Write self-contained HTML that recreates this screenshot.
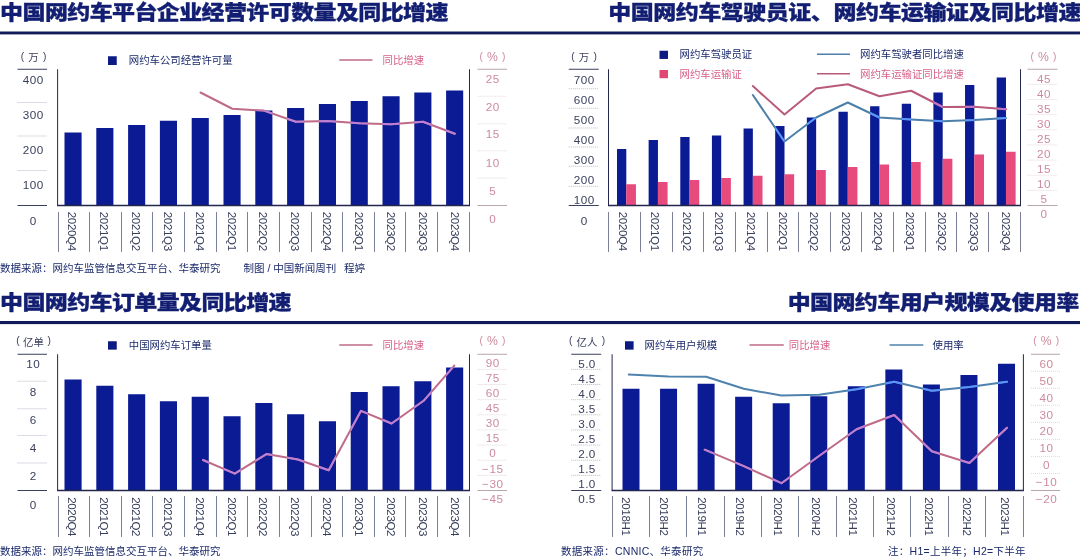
<!DOCTYPE html>
<html lang="zh-CN">
<head>
<meta charset="utf-8">
<title>中国网约车数据图表</title>
<style>
html,body{margin:0;padding:0;background:#fff;}
body{width:1080px;height:560px;overflow:hidden;}
svg{display:block;}
text{font-family:"Liberation Sans","Noto Sans CJK SC",sans-serif;}
.t{font-family:"Liberation Sans","Noto Sans CJK SC",sans-serif;font-weight:900;}
.n{font-weight:400;letter-spacing:0.5px;}
.c{font-weight:400;}
.u{font-weight:400;}
.x{letter-spacing:-0.38px;}
</style>
</head>
<body>
<svg width="1080" height="560" viewBox="0 0 1080 560">
<rect x="0" y="0" width="1080" height="560" fill="#ffffff"/>
<rect x="0.00" y="31.50" width="1080.00" height="2.90" fill="#111b5a"/>
<rect x="0.00" y="321.00" width="1080.00" height="3.10" fill="#111b5a"/>
<text transform="translate(0.10,20.15) scale(1,0.873)" font-size="23" fill="#121e72" stroke="#121e72" stroke-width="0.35" letter-spacing="-0.6" class="t">中国网约车平台企业经营许可数量及同比增速</text>
<text transform="translate(608.20,20.15) scale(1,0.873)" font-size="23" fill="#121e72" stroke="#121e72" stroke-width="0.35" letter-spacing="-0.47" class="t">中国网约车驾驶员证、网约车运输证及同比增速</text>
<text transform="translate(0.10,309.85) scale(1,0.873)" font-size="23" fill="#121e72" stroke="#121e72" stroke-width="0.35" letter-spacing="-0.62" class="t">中国网约车订单量及同比增速</text>
<text transform="translate(787.70,309.85) scale(1,0.873)" font-size="23" fill="#121e72" stroke="#121e72" stroke-width="0.35" letter-spacing="-0.6" class="t">中国网约车用户规模及使用率</text>
<line x1="17.50" y1="69.25" x2="47.00" y2="69.25" stroke="#3a3f5c" stroke-width="1"/>
<line x1="17.50" y1="102.50" x2="47.00" y2="102.50" stroke="#b9bbc8" stroke-width="1" stroke-dasharray="1 1"/>
<line x1="17.50" y1="136.00" x2="47.00" y2="136.00" stroke="#b9bbc8" stroke-width="1" stroke-dasharray="1 1"/>
<line x1="17.50" y1="170.50" x2="47.00" y2="170.50" stroke="#b9bbc8" stroke-width="1" stroke-dasharray="1 1"/>
<line x1="17.50" y1="205.50" x2="47.00" y2="205.50" stroke="#3a3f5c" stroke-width="1"/>
<text x="33.25" y="83.79" font-size="11.7" fill="#3a3f5c" text-anchor="middle" class="n">400</text>
<text x="33.25" y="118.79" font-size="11.7" fill="#3a3f5c" text-anchor="middle" class="n">300</text>
<text x="33.25" y="153.79" font-size="11.7" fill="#3a3f5c" text-anchor="middle" class="n">200</text>
<text x="33.25" y="189.29" font-size="11.7" fill="#3a3f5c" text-anchor="middle" class="n">100</text>
<text x="33.25" y="224.79" font-size="11.7" fill="#3a3f5c" text-anchor="middle" class="n">0</text>
<line x1="477.50" y1="69.25" x2="507.00" y2="69.25" stroke="#b7a6ab" stroke-width="1"/>
<line x1="477.50" y1="96.25" x2="507.00" y2="96.25" stroke="#e4d6da" stroke-width="1" stroke-dasharray="1 1"/>
<line x1="477.50" y1="123.75" x2="507.00" y2="123.75" stroke="#e4d6da" stroke-width="1" stroke-dasharray="1 1"/>
<line x1="477.50" y1="150.75" x2="507.00" y2="150.75" stroke="#e4d6da" stroke-width="1" stroke-dasharray="1 1"/>
<line x1="477.50" y1="178.00" x2="507.00" y2="178.00" stroke="#e4d6da" stroke-width="1" stroke-dasharray="1 1"/>
<line x1="477.50" y1="205.50" x2="507.00" y2="205.50" stroke="#b7a6ab" stroke-width="1"/>
<text x="492.75" y="82.79" font-size="11.7" fill="#cc8b9d" text-anchor="middle" class="n">25</text>
<text x="492.75" y="110.89" font-size="11.7" fill="#cc8b9d" text-anchor="middle" class="n">20</text>
<text x="492.75" y="138.49" font-size="11.7" fill="#cc8b9d" text-anchor="middle" class="n">15</text>
<text x="492.75" y="167.19" font-size="11.7" fill="#cc8b9d" text-anchor="middle" class="n">10</text>
<text x="492.75" y="195.29" font-size="11.7" fill="#cc8b9d" text-anchor="middle" class="n">5</text>
<text x="492.75" y="223.49" font-size="11.7" fill="#cc8b9d" text-anchor="middle" class="n">0</text>
<text x="33.50" y="59.74" font-size="10.2" fill="#3a3f5c" text-anchor="middle" class="u">(<tspan dx="4.2" dy="1.3" font-size="10.4">万</tspan><tspan dx="4.2" dy="-1.3">)</tspan></text>
<text x="492.50" y="59.79" font-size="10.2" fill="#cc8b9d" text-anchor="middle" class="u">(<tspan dx="4.1" dy="1.4" font-size="12.2">%</tspan><tspan dx="4.1" dy="-1.4">)</tspan></text>
<rect x="64.50" y="132.50" width="17.10" height="73.00" fill="#0a1b93"/>
<rect x="96.30" y="128.00" width="17.10" height="77.50" fill="#0a1b93"/>
<rect x="128.10" y="125.00" width="17.10" height="80.50" fill="#0a1b93"/>
<rect x="159.90" y="120.75" width="17.10" height="84.75" fill="#0a1b93"/>
<rect x="191.70" y="118.00" width="17.10" height="87.50" fill="#0a1b93"/>
<rect x="223.50" y="115.00" width="17.10" height="90.50" fill="#0a1b93"/>
<rect x="255.30" y="110.50" width="17.10" height="95.00" fill="#0a1b93"/>
<rect x="287.10" y="108.00" width="17.10" height="97.50" fill="#0a1b93"/>
<rect x="318.90" y="104.00" width="17.10" height="101.50" fill="#0a1b93"/>
<rect x="350.70" y="101.00" width="17.10" height="104.50" fill="#0a1b93"/>
<rect x="382.50" y="96.25" width="17.10" height="109.25" fill="#0a1b93"/>
<rect x="414.30" y="92.50" width="17.10" height="113.00" fill="#0a1b93"/>
<rect x="446.10" y="90.50" width="17.10" height="115.00" fill="#0a1b93"/>
<clipPath id="c1"><rect x="64.50" y="132.50" width="17.10" height="73.00"/><rect x="96.30" y="128.00" width="17.10" height="77.50"/><rect x="128.10" y="125.00" width="17.10" height="80.50"/><rect x="159.90" y="120.75" width="17.10" height="84.75"/><rect x="191.70" y="118.00" width="17.10" height="87.50"/><rect x="223.50" y="115.00" width="17.10" height="90.50"/><rect x="255.30" y="110.50" width="17.10" height="95.00"/><rect x="287.10" y="108.00" width="17.10" height="97.50"/><rect x="318.90" y="104.00" width="17.10" height="101.50"/><rect x="350.70" y="101.00" width="17.10" height="104.50"/><rect x="382.50" y="96.25" width="17.10" height="109.25"/><rect x="414.30" y="92.50" width="17.10" height="113.00"/><rect x="446.10" y="90.50" width="17.10" height="115.00"/></clipPath>
<line x1="57.60" y1="69.25" x2="57.60" y2="205.50" stroke="#23274d" stroke-width="1"/>
<line x1="469.50" y1="69.25" x2="469.50" y2="205.50" stroke="#23274d" stroke-width="1"/>
<line x1="57.10" y1="205.50" x2="470.00" y2="205.50" stroke="#23274d" stroke-width="1.3"/>
<polyline points="200.50,92.50 232.30,108.75 264.00,110.60 295.80,121.75 327.60,121.00 359.40,123.25 391.20,124.25 423.00,121.75 454.80,133.75" fill="none" stroke="#bf6a87" stroke-width="2.0" stroke-linejoin="round" stroke-linecap="round"/>
<polyline points="200.50,92.50 232.30,108.75 264.00,110.60 295.80,121.75 327.60,121.00 359.40,123.25 391.20,124.25 423.00,121.75 454.80,133.75" fill="none" stroke="#bd80d5" stroke-width="2.0" stroke-linejoin="round" stroke-linecap="round" clip-path="url(#c1)"/>
<rect x="108.00" y="56.25" width="8.75" height="8.75" fill="#0c1b82"/>
<text x="128.75" y="64.49" font-size="10.4" fill="#1b2a6b" text-anchor="start" class="c">网约车公司经营许可量</text>
<line x1="339.25" y1="60.00" x2="372.50" y2="60.00" stroke="#bf6a87" stroke-width="1.3"/>
<text x="382.50" y="64.49" font-size="10.4" fill="#d65f86" text-anchor="start" class="c">同比增速</text>
<line x1="58.00" y1="211.70" x2="58.00" y2="252.00" stroke="#7b8096" stroke-width="1" shape-rendering="crispEdges"/>
<line x1="89.64" y1="211.70" x2="89.64" y2="252.00" stroke="#7b8096" stroke-width="1" shape-rendering="crispEdges"/>
<line x1="121.27" y1="211.70" x2="121.27" y2="252.00" stroke="#7b8096" stroke-width="1" shape-rendering="crispEdges"/>
<line x1="152.91" y1="211.70" x2="152.91" y2="252.00" stroke="#7b8096" stroke-width="1" shape-rendering="crispEdges"/>
<line x1="184.54" y1="211.70" x2="184.54" y2="252.00" stroke="#7b8096" stroke-width="1" shape-rendering="crispEdges"/>
<line x1="216.18" y1="211.70" x2="216.18" y2="252.00" stroke="#7b8096" stroke-width="1" shape-rendering="crispEdges"/>
<line x1="247.81" y1="211.70" x2="247.81" y2="252.00" stroke="#7b8096" stroke-width="1" shape-rendering="crispEdges"/>
<line x1="279.45" y1="211.70" x2="279.45" y2="252.00" stroke="#7b8096" stroke-width="1" shape-rendering="crispEdges"/>
<line x1="311.08" y1="211.70" x2="311.08" y2="252.00" stroke="#7b8096" stroke-width="1" shape-rendering="crispEdges"/>
<line x1="342.72" y1="211.70" x2="342.72" y2="252.00" stroke="#7b8096" stroke-width="1" shape-rendering="crispEdges"/>
<line x1="374.35" y1="211.70" x2="374.35" y2="252.00" stroke="#7b8096" stroke-width="1" shape-rendering="crispEdges"/>
<line x1="405.99" y1="211.70" x2="405.99" y2="252.00" stroke="#7b8096" stroke-width="1" shape-rendering="crispEdges"/>
<line x1="437.62" y1="211.70" x2="437.62" y2="252.00" stroke="#7b8096" stroke-width="1" shape-rendering="crispEdges"/>
<line x1="469.25" y1="211.70" x2="469.25" y2="252.00" stroke="#7b8096" stroke-width="1" shape-rendering="crispEdges"/>
<text transform="translate(68.30,211.80) rotate(90)" font-size="11.6" fill="#3a3f5c" class="x">2020Q4</text>
<text transform="translate(100.15,211.80) rotate(90)" font-size="11.6" fill="#3a3f5c" class="x">2021Q1</text>
<text transform="translate(132.00,211.80) rotate(90)" font-size="11.6" fill="#3a3f5c" class="x">2021Q2</text>
<text transform="translate(163.85,211.80) rotate(90)" font-size="11.6" fill="#3a3f5c" class="x">2021Q3</text>
<text transform="translate(195.70,211.80) rotate(90)" font-size="11.6" fill="#3a3f5c" class="x">2021Q4</text>
<text transform="translate(227.55,211.80) rotate(90)" font-size="11.6" fill="#3a3f5c" class="x">2022Q1</text>
<text transform="translate(259.40,211.80) rotate(90)" font-size="11.6" fill="#3a3f5c" class="x">2022Q2</text>
<text transform="translate(291.25,211.80) rotate(90)" font-size="11.6" fill="#3a3f5c" class="x">2022Q3</text>
<text transform="translate(323.10,211.80) rotate(90)" font-size="11.6" fill="#3a3f5c" class="x">2022Q4</text>
<text transform="translate(354.95,211.80) rotate(90)" font-size="11.6" fill="#3a3f5c" class="x">2023Q1</text>
<text transform="translate(386.80,211.80) rotate(90)" font-size="11.6" fill="#3a3f5c" class="x">2023Q2</text>
<text transform="translate(418.65,211.80) rotate(90)" font-size="11.6" fill="#3a3f5c" class="x">2023Q3</text>
<text transform="translate(450.50,211.80) rotate(90)" font-size="11.6" fill="#3a3f5c" class="x">2023Q4</text>
<text x="0.00" y="271.68" font-size="10.5" fill="#1b2a6b" text-anchor="start" class="c">数据来源：网约车监管信息交互平台、华泰研究</text>
<text x="243.50" y="271.68" font-size="10.5" fill="#1b2a6b" text-anchor="start" class="c">制图 / 中国新闻周刊</text>
<text x="344.00" y="271.68" font-size="10.5" fill="#1b2a6b" text-anchor="start" class="c">程婷</text>
<line x1="17.50" y1="354.25" x2="47.00" y2="354.25" stroke="#3a3f5c" stroke-width="1"/>
<line x1="17.50" y1="381.25" x2="47.00" y2="381.25" stroke="#b9bbc8" stroke-width="1" stroke-dasharray="1 1"/>
<line x1="17.50" y1="408.75" x2="47.00" y2="408.75" stroke="#b9bbc8" stroke-width="1" stroke-dasharray="1 1"/>
<line x1="17.50" y1="435.50" x2="47.00" y2="435.50" stroke="#b9bbc8" stroke-width="1" stroke-dasharray="1 1"/>
<line x1="17.50" y1="463.00" x2="47.00" y2="463.00" stroke="#b9bbc8" stroke-width="1" stroke-dasharray="1 1"/>
<line x1="17.50" y1="490.50" x2="47.00" y2="490.50" stroke="#3a3f5c" stroke-width="1"/>
<text x="33.25" y="367.59" font-size="11.7" fill="#3a3f5c" text-anchor="middle" class="n">10</text>
<text x="33.25" y="395.89" font-size="11.7" fill="#3a3f5c" text-anchor="middle" class="n">8</text>
<text x="33.25" y="424.19" font-size="11.7" fill="#3a3f5c" text-anchor="middle" class="n">6</text>
<text x="33.25" y="452.29" font-size="11.7" fill="#3a3f5c" text-anchor="middle" class="n">4</text>
<text x="33.25" y="480.49" font-size="11.7" fill="#3a3f5c" text-anchor="middle" class="n">2</text>
<text x="33.25" y="508.89" font-size="11.7" fill="#3a3f5c" text-anchor="middle" class="n">0</text>
<line x1="477.50" y1="354.25" x2="507.00" y2="354.25" stroke="#b7a6ab" stroke-width="1"/>
<line x1="477.50" y1="369.39" x2="507.00" y2="369.39" stroke="#e4d6da" stroke-width="1" stroke-dasharray="1 1"/>
<line x1="477.50" y1="384.53" x2="507.00" y2="384.53" stroke="#e4d6da" stroke-width="1" stroke-dasharray="1 1"/>
<line x1="477.50" y1="399.67" x2="507.00" y2="399.67" stroke="#e4d6da" stroke-width="1" stroke-dasharray="1 1"/>
<line x1="477.50" y1="414.81" x2="507.00" y2="414.81" stroke="#e4d6da" stroke-width="1" stroke-dasharray="1 1"/>
<line x1="477.50" y1="429.95" x2="507.00" y2="429.95" stroke="#e4d6da" stroke-width="1" stroke-dasharray="1 1"/>
<line x1="477.50" y1="445.09" x2="507.00" y2="445.09" stroke="#e4d6da" stroke-width="1" stroke-dasharray="1 1"/>
<line x1="477.50" y1="460.23" x2="507.00" y2="460.23" stroke="#e4d6da" stroke-width="1" stroke-dasharray="1 1"/>
<line x1="477.50" y1="475.37" x2="507.00" y2="475.37" stroke="#e4d6da" stroke-width="1" stroke-dasharray="1 1"/>
<line x1="477.50" y1="490.51" x2="507.00" y2="490.51" stroke="#b7a6ab" stroke-width="1"/>
<text x="492.75" y="367.19" font-size="11.7" fill="#cc8b9d" text-anchor="middle" class="n">90</text>
<text x="492.75" y="382.24" font-size="11.7" fill="#cc8b9d" text-anchor="middle" class="n">75</text>
<text x="492.75" y="397.29" font-size="11.7" fill="#cc8b9d" text-anchor="middle" class="n">60</text>
<text x="492.75" y="412.34" font-size="11.7" fill="#cc8b9d" text-anchor="middle" class="n">45</text>
<text x="492.75" y="427.39" font-size="11.7" fill="#cc8b9d" text-anchor="middle" class="n">30</text>
<text x="492.75" y="442.44" font-size="11.7" fill="#cc8b9d" text-anchor="middle" class="n">15</text>
<text x="492.75" y="457.49" font-size="11.7" fill="#cc8b9d" text-anchor="middle" class="n">0</text>
<text x="492.75" y="472.54" font-size="11.7" fill="#cc8b9d" text-anchor="middle" class="n">−15</text>
<text x="492.75" y="487.59" font-size="11.7" fill="#cc8b9d" text-anchor="middle" class="n">−30</text>
<text x="492.75" y="502.64" font-size="11.7" fill="#cc8b9d" text-anchor="middle" class="n">−45</text>
<text x="33.50" y="344.34" font-size="10.2" fill="#3a3f5c" text-anchor="middle" class="u">(<tspan dx="3.5" dy="1.3" font-size="10.4">亿单</tspan><tspan dx="3.5" dy="-1.3">)</tspan></text>
<text x="492.50" y="344.04" font-size="10.2" fill="#cc8b9d" text-anchor="middle" class="u">(<tspan dx="4.1" dy="1.4" font-size="12.2">%</tspan><tspan dx="4.1" dy="-1.4">)</tspan></text>
<rect x="64.50" y="379.50" width="17.10" height="111.00" fill="#0a1b93"/>
<rect x="96.30" y="385.75" width="17.10" height="104.75" fill="#0a1b93"/>
<rect x="128.10" y="394.25" width="17.10" height="96.25" fill="#0a1b93"/>
<rect x="159.90" y="401.25" width="17.10" height="89.25" fill="#0a1b93"/>
<rect x="191.70" y="396.75" width="17.10" height="93.75" fill="#0a1b93"/>
<rect x="223.50" y="416.25" width="17.10" height="74.25" fill="#0a1b93"/>
<rect x="255.30" y="403.00" width="17.10" height="87.50" fill="#0a1b93"/>
<rect x="287.10" y="414.25" width="17.10" height="76.25" fill="#0a1b93"/>
<rect x="318.90" y="421.25" width="17.10" height="69.25" fill="#0a1b93"/>
<rect x="350.70" y="392.00" width="17.10" height="98.50" fill="#0a1b93"/>
<rect x="382.50" y="386.25" width="17.10" height="104.25" fill="#0a1b93"/>
<rect x="414.30" y="381.25" width="17.10" height="109.25" fill="#0a1b93"/>
<rect x="446.10" y="367.50" width="17.10" height="123.00" fill="#0a1b93"/>
<clipPath id="c3"><rect x="64.50" y="379.50" width="17.10" height="111.00"/><rect x="96.30" y="385.75" width="17.10" height="104.75"/><rect x="128.10" y="394.25" width="17.10" height="96.25"/><rect x="159.90" y="401.25" width="17.10" height="89.25"/><rect x="191.70" y="396.75" width="17.10" height="93.75"/><rect x="223.50" y="416.25" width="17.10" height="74.25"/><rect x="255.30" y="403.00" width="17.10" height="87.50"/><rect x="287.10" y="414.25" width="17.10" height="76.25"/><rect x="318.90" y="421.25" width="17.10" height="69.25"/><rect x="350.70" y="392.00" width="17.10" height="98.50"/><rect x="382.50" y="386.25" width="17.10" height="104.25"/><rect x="414.30" y="381.25" width="17.10" height="109.25"/><rect x="446.10" y="367.50" width="17.10" height="123.00"/></clipPath>
<line x1="57.60" y1="354.25" x2="57.60" y2="490.50" stroke="#23274d" stroke-width="1"/>
<line x1="469.50" y1="354.25" x2="469.50" y2="490.50" stroke="#23274d" stroke-width="1"/>
<line x1="57.10" y1="490.50" x2="470.00" y2="490.50" stroke="#23274d" stroke-width="1.3"/>
<polyline points="203.00,460.00 234.80,473.70 266.40,454.10 297.90,459.50 328.70,470.20 361.00,410.80 391.60,423.50 423.60,400.80 454.30,365.60" fill="none" stroke="#bf6a87" stroke-width="2.0" stroke-linejoin="round" stroke-linecap="round"/>
<polyline points="203.00,460.00 234.80,473.70 266.40,454.10 297.90,459.50 328.70,470.20 361.00,410.80 391.60,423.50 423.60,400.80 454.30,365.60" fill="none" stroke="#bd80d5" stroke-width="2.0" stroke-linejoin="round" stroke-linecap="round" clip-path="url(#c3)"/>
<rect x="108.00" y="341.25" width="8.75" height="8.40" fill="#0c1b82"/>
<text x="128.75" y="349.24" font-size="10.4" fill="#1b2a6b" text-anchor="start" class="c">中国网约车订单量</text>
<line x1="339.25" y1="345.00" x2="372.50" y2="345.00" stroke="#bf6a87" stroke-width="1.3"/>
<text x="382.50" y="349.49" font-size="10.4" fill="#d65f86" text-anchor="start" class="c">同比增速</text>
<line x1="58.00" y1="495.95" x2="58.00" y2="537.25" stroke="#7b8096" stroke-width="1" shape-rendering="crispEdges"/>
<line x1="89.64" y1="495.95" x2="89.64" y2="537.25" stroke="#7b8096" stroke-width="1" shape-rendering="crispEdges"/>
<line x1="121.27" y1="495.95" x2="121.27" y2="537.25" stroke="#7b8096" stroke-width="1" shape-rendering="crispEdges"/>
<line x1="152.91" y1="495.95" x2="152.91" y2="537.25" stroke="#7b8096" stroke-width="1" shape-rendering="crispEdges"/>
<line x1="184.54" y1="495.95" x2="184.54" y2="537.25" stroke="#7b8096" stroke-width="1" shape-rendering="crispEdges"/>
<line x1="216.18" y1="495.95" x2="216.18" y2="537.25" stroke="#7b8096" stroke-width="1" shape-rendering="crispEdges"/>
<line x1="247.81" y1="495.95" x2="247.81" y2="537.25" stroke="#7b8096" stroke-width="1" shape-rendering="crispEdges"/>
<line x1="279.45" y1="495.95" x2="279.45" y2="537.25" stroke="#7b8096" stroke-width="1" shape-rendering="crispEdges"/>
<line x1="311.08" y1="495.95" x2="311.08" y2="537.25" stroke="#7b8096" stroke-width="1" shape-rendering="crispEdges"/>
<line x1="342.72" y1="495.95" x2="342.72" y2="537.25" stroke="#7b8096" stroke-width="1" shape-rendering="crispEdges"/>
<line x1="374.35" y1="495.95" x2="374.35" y2="537.25" stroke="#7b8096" stroke-width="1" shape-rendering="crispEdges"/>
<line x1="405.99" y1="495.95" x2="405.99" y2="537.25" stroke="#7b8096" stroke-width="1" shape-rendering="crispEdges"/>
<line x1="437.62" y1="495.95" x2="437.62" y2="537.25" stroke="#7b8096" stroke-width="1" shape-rendering="crispEdges"/>
<line x1="469.25" y1="495.95" x2="469.25" y2="537.25" stroke="#7b8096" stroke-width="1" shape-rendering="crispEdges"/>
<text transform="translate(68.30,497.20) rotate(90)" font-size="11.6" fill="#3a3f5c" class="x">2020Q4</text>
<text transform="translate(100.15,497.20) rotate(90)" font-size="11.6" fill="#3a3f5c" class="x">2021Q1</text>
<text transform="translate(132.00,497.20) rotate(90)" font-size="11.6" fill="#3a3f5c" class="x">2021Q2</text>
<text transform="translate(163.85,497.20) rotate(90)" font-size="11.6" fill="#3a3f5c" class="x">2021Q3</text>
<text transform="translate(195.70,497.20) rotate(90)" font-size="11.6" fill="#3a3f5c" class="x">2021Q4</text>
<text transform="translate(227.55,497.20) rotate(90)" font-size="11.6" fill="#3a3f5c" class="x">2022Q1</text>
<text transform="translate(259.40,497.20) rotate(90)" font-size="11.6" fill="#3a3f5c" class="x">2022Q2</text>
<text transform="translate(291.25,497.20) rotate(90)" font-size="11.6" fill="#3a3f5c" class="x">2022Q3</text>
<text transform="translate(323.10,497.20) rotate(90)" font-size="11.6" fill="#3a3f5c" class="x">2022Q4</text>
<text transform="translate(354.95,497.20) rotate(90)" font-size="11.6" fill="#3a3f5c" class="x">2023Q1</text>
<text transform="translate(386.80,497.20) rotate(90)" font-size="11.6" fill="#3a3f5c" class="x">2023Q2</text>
<text transform="translate(418.65,497.20) rotate(90)" font-size="11.6" fill="#3a3f5c" class="x">2023Q3</text>
<text transform="translate(450.50,497.20) rotate(90)" font-size="11.6" fill="#3a3f5c" class="x">2023Q4</text>
<text x="0.00" y="555.18" font-size="10.5" fill="#1b2a6b" text-anchor="start" class="c">数据来源：网约车监管信息交互平台、华泰研究</text>
<line x1="568.75" y1="69.25" x2="598.75" y2="69.25" stroke="#3a3f5c" stroke-width="1"/>
<line x1="568.75" y1="88.75" x2="598.75" y2="88.75" stroke="#b9bbc8" stroke-width="1" stroke-dasharray="1 1"/>
<line x1="568.75" y1="108.25" x2="598.75" y2="108.25" stroke="#b9bbc8" stroke-width="1" stroke-dasharray="1 1"/>
<line x1="568.75" y1="128.00" x2="598.75" y2="128.00" stroke="#b9bbc8" stroke-width="1" stroke-dasharray="1 1"/>
<line x1="568.75" y1="147.00" x2="598.75" y2="147.00" stroke="#b9bbc8" stroke-width="1" stroke-dasharray="1 1"/>
<line x1="568.75" y1="166.25" x2="598.75" y2="166.25" stroke="#b9bbc8" stroke-width="1" stroke-dasharray="1 1"/>
<line x1="568.75" y1="186.25" x2="598.75" y2="186.25" stroke="#b9bbc8" stroke-width="1" stroke-dasharray="1 1"/>
<line x1="568.75" y1="205.50" x2="598.75" y2="205.50" stroke="#3a3f5c" stroke-width="1"/>
<text x="584.25" y="83.79" font-size="11.7" fill="#3a3f5c" text-anchor="middle" class="n">700</text>
<text x="584.25" y="103.79" font-size="11.7" fill="#3a3f5c" text-anchor="middle" class="n">600</text>
<text x="584.25" y="123.79" font-size="11.7" fill="#3a3f5c" text-anchor="middle" class="n">500</text>
<text x="584.25" y="143.79" font-size="11.7" fill="#3a3f5c" text-anchor="middle" class="n">400</text>
<text x="584.25" y="164.29" font-size="11.7" fill="#3a3f5c" text-anchor="middle" class="n">300</text>
<text x="584.25" y="184.29" font-size="11.7" fill="#3a3f5c" text-anchor="middle" class="n">200</text>
<text x="584.25" y="204.29" font-size="11.7" fill="#3a3f5c" text-anchor="middle" class="n">100</text>
<text x="584.25" y="224.79" font-size="11.7" fill="#3a3f5c" text-anchor="middle" class="n">0</text>
<line x1="1027.50" y1="69.25" x2="1057.50" y2="69.25" stroke="#b7a6ab" stroke-width="1"/>
<line x1="1027.50" y1="84.39" x2="1057.50" y2="84.39" stroke="#e4d6da" stroke-width="1" stroke-dasharray="1 1"/>
<line x1="1027.50" y1="99.53" x2="1057.50" y2="99.53" stroke="#e4d6da" stroke-width="1" stroke-dasharray="1 1"/>
<line x1="1027.50" y1="114.67" x2="1057.50" y2="114.67" stroke="#e4d6da" stroke-width="1" stroke-dasharray="1 1"/>
<line x1="1027.50" y1="129.81" x2="1057.50" y2="129.81" stroke="#e4d6da" stroke-width="1" stroke-dasharray="1 1"/>
<line x1="1027.50" y1="144.95" x2="1057.50" y2="144.95" stroke="#e4d6da" stroke-width="1" stroke-dasharray="1 1"/>
<line x1="1027.50" y1="160.09" x2="1057.50" y2="160.09" stroke="#e4d6da" stroke-width="1" stroke-dasharray="1 1"/>
<line x1="1027.50" y1="175.23" x2="1057.50" y2="175.23" stroke="#e4d6da" stroke-width="1" stroke-dasharray="1 1"/>
<line x1="1027.50" y1="190.37" x2="1057.50" y2="190.37" stroke="#e4d6da" stroke-width="1" stroke-dasharray="1 1"/>
<line x1="1027.50" y1="205.51" x2="1057.50" y2="205.51" stroke="#b7a6ab" stroke-width="1"/>
<text x="1044.00" y="82.59" font-size="11.7" fill="#cc8b9d" text-anchor="middle" class="n">45</text>
<text x="1044.00" y="97.64" font-size="11.7" fill="#cc8b9d" text-anchor="middle" class="n">40</text>
<text x="1044.00" y="112.69" font-size="11.7" fill="#cc8b9d" text-anchor="middle" class="n">35</text>
<text x="1044.00" y="127.74" font-size="11.7" fill="#cc8b9d" text-anchor="middle" class="n">30</text>
<text x="1044.00" y="142.79" font-size="11.7" fill="#cc8b9d" text-anchor="middle" class="n">25</text>
<text x="1044.00" y="157.84" font-size="11.7" fill="#cc8b9d" text-anchor="middle" class="n">20</text>
<text x="1044.00" y="172.89" font-size="11.7" fill="#cc8b9d" text-anchor="middle" class="n">15</text>
<text x="1044.00" y="187.94" font-size="11.7" fill="#cc8b9d" text-anchor="middle" class="n">10</text>
<text x="1044.00" y="202.99" font-size="11.7" fill="#cc8b9d" text-anchor="middle" class="n">5</text>
<text x="1044.00" y="218.04" font-size="11.7" fill="#cc8b9d" text-anchor="middle" class="n">0</text>
<text x="584.00" y="59.74" font-size="10.2" fill="#3a3f5c" text-anchor="middle" class="u">(<tspan dx="4.2" dy="1.3" font-size="10.4">万</tspan><tspan dx="4.2" dy="-1.3">)</tspan></text>
<text x="1043.50" y="59.79" font-size="10.2" fill="#cc8b9d" text-anchor="middle" class="u">(<tspan dx="4.1" dy="1.4" font-size="12.2">%</tspan><tspan dx="4.1" dy="-1.4">)</tspan></text>
<rect x="617.00" y="149.00" width="9.30" height="56.50" fill="#0a1b93"/>
<rect x="626.25" y="184.25" width="9.70" height="21.25" fill="#e74b7d"/>
<rect x="648.64" y="140.00" width="9.30" height="65.50" fill="#0a1b93"/>
<rect x="657.89" y="182.00" width="9.70" height="23.50" fill="#e74b7d"/>
<rect x="680.28" y="137.00" width="9.30" height="68.50" fill="#0a1b93"/>
<rect x="689.53" y="180.00" width="9.70" height="25.50" fill="#e74b7d"/>
<rect x="711.92" y="135.50" width="9.30" height="70.00" fill="#0a1b93"/>
<rect x="721.17" y="178.00" width="9.70" height="27.50" fill="#e74b7d"/>
<rect x="743.56" y="128.50" width="9.30" height="77.00" fill="#0a1b93"/>
<rect x="752.81" y="175.75" width="9.70" height="29.75" fill="#e74b7d"/>
<rect x="775.20" y="126.00" width="9.30" height="79.50" fill="#0a1b93"/>
<rect x="784.45" y="174.25" width="9.70" height="31.25" fill="#e74b7d"/>
<rect x="806.84" y="117.50" width="9.30" height="88.00" fill="#0a1b93"/>
<rect x="816.09" y="170.00" width="9.70" height="35.50" fill="#e74b7d"/>
<rect x="838.48" y="111.75" width="9.30" height="93.75" fill="#0a1b93"/>
<rect x="847.73" y="167.00" width="9.70" height="38.50" fill="#e74b7d"/>
<rect x="870.12" y="106.25" width="9.30" height="99.25" fill="#0a1b93"/>
<rect x="879.37" y="164.50" width="9.70" height="41.00" fill="#e74b7d"/>
<rect x="901.76" y="103.75" width="9.30" height="101.75" fill="#0a1b93"/>
<rect x="911.01" y="162.00" width="9.70" height="43.50" fill="#e74b7d"/>
<rect x="933.40" y="92.50" width="9.30" height="113.00" fill="#0a1b93"/>
<rect x="942.65" y="158.75" width="9.70" height="46.75" fill="#e74b7d"/>
<rect x="965.04" y="85.00" width="9.30" height="120.50" fill="#0a1b93"/>
<rect x="974.29" y="154.50" width="9.70" height="51.00" fill="#e74b7d"/>
<rect x="996.68" y="77.50" width="9.30" height="128.00" fill="#0a1b93"/>
<rect x="1005.93" y="151.75" width="9.70" height="53.75" fill="#e74b7d"/>
<clipPath id="c2"><rect x="617.00" y="149.00" width="9.30" height="56.50"/><rect x="648.64" y="140.00" width="9.30" height="65.50"/><rect x="680.28" y="137.00" width="9.30" height="68.50"/><rect x="711.92" y="135.50" width="9.30" height="70.00"/><rect x="743.56" y="128.50" width="9.30" height="77.00"/><rect x="775.20" y="126.00" width="9.30" height="79.50"/><rect x="806.84" y="117.50" width="9.30" height="88.00"/><rect x="838.48" y="111.75" width="9.30" height="93.75"/><rect x="870.12" y="106.25" width="9.30" height="99.25"/><rect x="901.76" y="103.75" width="9.30" height="101.75"/><rect x="933.40" y="92.50" width="9.30" height="113.00"/><rect x="965.04" y="85.00" width="9.30" height="120.50"/><rect x="996.68" y="77.50" width="9.30" height="128.00"/></clipPath>
<line x1="608.50" y1="69.25" x2="608.50" y2="205.50" stroke="#23274d" stroke-width="1"/>
<line x1="1020.50" y1="69.25" x2="1020.50" y2="205.50" stroke="#23274d" stroke-width="1"/>
<line x1="608.00" y1="205.50" x2="1021.00" y2="205.50" stroke="#23274d" stroke-width="1.3"/>
<polyline points="752.85,86.00 784.50,114.50 816.15,88.50 847.80,84.25 879.45,96.25 911.10,90.75 942.75,107.00 974.40,106.75 1006.05,109.25" fill="none" stroke="#ba5a7b" stroke-width="2.0" stroke-linejoin="round" stroke-linecap="round"/>
<polyline points="752.85,86.00 784.50,114.50 816.15,88.50 847.80,84.25 879.45,96.25 911.10,90.75 942.75,107.00 974.40,106.75 1006.05,109.25" fill="none" stroke="#bf72c4" stroke-width="2.0" stroke-linejoin="round" stroke-linecap="round" clip-path="url(#c2)"/>
<polyline points="752.85,95.00 784.50,141.50 816.15,117.50 847.80,102.50 879.45,117.50 911.10,119.50 942.75,121.25 974.40,120.00 1006.05,118.00" fill="none" stroke="#4c7fa9" stroke-width="2.0" stroke-linejoin="round" stroke-linecap="round"/>
<polyline points="752.85,95.00 784.50,141.50 816.15,117.50 847.80,102.50 879.45,117.50 911.10,119.50 942.75,121.25 974.40,120.00 1006.05,118.00" fill="none" stroke="#5b95fb" stroke-width="2.0" stroke-linejoin="round" stroke-linecap="round" clip-path="url(#c2)"/>
<rect x="659.50" y="50.75" width="8.50" height="8.20" fill="#0c1b82"/>
<text x="679.50" y="58.24" font-size="10.4" fill="#1b2a6b" text-anchor="start" class="c">网约车驾驶员证</text>
<rect x="659.50" y="70.00" width="8.50" height="8.20" fill="#de4873"/>
<text x="679.50" y="77.99" font-size="10.4" fill="#d65f86" text-anchor="start" class="c">网约车运输证</text>
<line x1="817.00" y1="54.25" x2="850.00" y2="54.25" stroke="#4c7fa9" stroke-width="1.3"/>
<text x="860.00" y="58.24" font-size="10.4" fill="#1b2a6b" text-anchor="start" class="c">网约车驾驶者同比增速</text>
<line x1="817.00" y1="73.75" x2="850.00" y2="73.75" stroke="#ba5a7b" stroke-width="1.3"/>
<text x="860.00" y="77.99" font-size="10.4" fill="#d65f86" text-anchor="start" class="c">网约车运输证同比增速</text>
<line x1="608.75" y1="211.70" x2="608.75" y2="252.00" stroke="#7b8096" stroke-width="1" shape-rendering="crispEdges"/>
<line x1="640.40" y1="211.70" x2="640.40" y2="252.00" stroke="#7b8096" stroke-width="1" shape-rendering="crispEdges"/>
<line x1="672.06" y1="211.70" x2="672.06" y2="252.00" stroke="#7b8096" stroke-width="1" shape-rendering="crispEdges"/>
<line x1="703.72" y1="211.70" x2="703.72" y2="252.00" stroke="#7b8096" stroke-width="1" shape-rendering="crispEdges"/>
<line x1="735.37" y1="211.70" x2="735.37" y2="252.00" stroke="#7b8096" stroke-width="1" shape-rendering="crispEdges"/>
<line x1="767.02" y1="211.70" x2="767.02" y2="252.00" stroke="#7b8096" stroke-width="1" shape-rendering="crispEdges"/>
<line x1="798.68" y1="211.70" x2="798.68" y2="252.00" stroke="#7b8096" stroke-width="1" shape-rendering="crispEdges"/>
<line x1="830.34" y1="211.70" x2="830.34" y2="252.00" stroke="#7b8096" stroke-width="1" shape-rendering="crispEdges"/>
<line x1="861.99" y1="211.70" x2="861.99" y2="252.00" stroke="#7b8096" stroke-width="1" shape-rendering="crispEdges"/>
<line x1="893.64" y1="211.70" x2="893.64" y2="252.00" stroke="#7b8096" stroke-width="1" shape-rendering="crispEdges"/>
<line x1="925.30" y1="211.70" x2="925.30" y2="252.00" stroke="#7b8096" stroke-width="1" shape-rendering="crispEdges"/>
<line x1="956.96" y1="211.70" x2="956.96" y2="252.00" stroke="#7b8096" stroke-width="1" shape-rendering="crispEdges"/>
<line x1="988.61" y1="211.70" x2="988.61" y2="252.00" stroke="#7b8096" stroke-width="1" shape-rendering="crispEdges"/>
<line x1="1020.26" y1="211.70" x2="1020.26" y2="252.00" stroke="#7b8096" stroke-width="1" shape-rendering="crispEdges"/>
<text transform="translate(619.30,211.80) rotate(90)" font-size="11.6" fill="#3a3f5c" class="x">2020Q4</text>
<text transform="translate(651.15,211.80) rotate(90)" font-size="11.6" fill="#3a3f5c" class="x">2021Q1</text>
<text transform="translate(683.00,211.80) rotate(90)" font-size="11.6" fill="#3a3f5c" class="x">2021Q2</text>
<text transform="translate(714.85,211.80) rotate(90)" font-size="11.6" fill="#3a3f5c" class="x">2021Q3</text>
<text transform="translate(746.70,211.80) rotate(90)" font-size="11.6" fill="#3a3f5c" class="x">2021Q4</text>
<text transform="translate(778.55,211.80) rotate(90)" font-size="11.6" fill="#3a3f5c" class="x">2022Q1</text>
<text transform="translate(810.40,211.80) rotate(90)" font-size="11.6" fill="#3a3f5c" class="x">2022Q2</text>
<text transform="translate(842.25,211.80) rotate(90)" font-size="11.6" fill="#3a3f5c" class="x">2022Q3</text>
<text transform="translate(874.10,211.80) rotate(90)" font-size="11.6" fill="#3a3f5c" class="x">2022Q4</text>
<text transform="translate(905.95,211.80) rotate(90)" font-size="11.6" fill="#3a3f5c" class="x">2023Q1</text>
<text transform="translate(937.80,211.80) rotate(90)" font-size="11.6" fill="#3a3f5c" class="x">2023Q2</text>
<text transform="translate(969.65,211.80) rotate(90)" font-size="11.6" fill="#3a3f5c" class="x">2023Q3</text>
<text transform="translate(1001.50,211.80) rotate(90)" font-size="11.6" fill="#3a3f5c" class="x">2023Q4</text>
<line x1="571.25" y1="354.25" x2="601.25" y2="354.25" stroke="#3a3f5c" stroke-width="1"/>
<line x1="571.25" y1="369.39" x2="601.25" y2="369.39" stroke="#b9bbc8" stroke-width="1" stroke-dasharray="1 1"/>
<line x1="571.25" y1="384.53" x2="601.25" y2="384.53" stroke="#b9bbc8" stroke-width="1" stroke-dasharray="1 1"/>
<line x1="571.25" y1="399.67" x2="601.25" y2="399.67" stroke="#b9bbc8" stroke-width="1" stroke-dasharray="1 1"/>
<line x1="571.25" y1="414.81" x2="601.25" y2="414.81" stroke="#b9bbc8" stroke-width="1" stroke-dasharray="1 1"/>
<line x1="571.25" y1="429.95" x2="601.25" y2="429.95" stroke="#b9bbc8" stroke-width="1" stroke-dasharray="1 1"/>
<line x1="571.25" y1="445.09" x2="601.25" y2="445.09" stroke="#b9bbc8" stroke-width="1" stroke-dasharray="1 1"/>
<line x1="571.25" y1="460.23" x2="601.25" y2="460.23" stroke="#b9bbc8" stroke-width="1" stroke-dasharray="1 1"/>
<line x1="571.25" y1="475.37" x2="601.25" y2="475.37" stroke="#b9bbc8" stroke-width="1" stroke-dasharray="1 1"/>
<line x1="571.25" y1="490.51" x2="601.25" y2="490.51" stroke="#3a3f5c" stroke-width="1"/>
<text x="587.00" y="367.59" font-size="11.7" fill="#3a3f5c" text-anchor="middle" class="n">5.0</text>
<text x="587.00" y="382.64" font-size="11.7" fill="#3a3f5c" text-anchor="middle" class="n">4.5</text>
<text x="587.00" y="397.69" font-size="11.7" fill="#3a3f5c" text-anchor="middle" class="n">4.0</text>
<text x="587.00" y="412.74" font-size="11.7" fill="#3a3f5c" text-anchor="middle" class="n">3.5</text>
<text x="587.00" y="427.79" font-size="11.7" fill="#3a3f5c" text-anchor="middle" class="n">3.0</text>
<text x="587.00" y="442.84" font-size="11.7" fill="#3a3f5c" text-anchor="middle" class="n">2.5</text>
<text x="587.00" y="457.89" font-size="11.7" fill="#3a3f5c" text-anchor="middle" class="n">2.0</text>
<text x="587.00" y="472.94" font-size="11.7" fill="#3a3f5c" text-anchor="middle" class="n">1.5</text>
<text x="587.00" y="487.99" font-size="11.7" fill="#3a3f5c" text-anchor="middle" class="n">1.0</text>
<text x="587.00" y="503.04" font-size="11.7" fill="#3a3f5c" text-anchor="middle" class="n">0.5</text>
<line x1="1031.00" y1="354.25" x2="1060.00" y2="354.25" stroke="#b7a6ab" stroke-width="1"/>
<line x1="1031.00" y1="371.28" x2="1060.00" y2="371.28" stroke="#e4d6da" stroke-width="1" stroke-dasharray="1 1"/>
<line x1="1031.00" y1="388.31" x2="1060.00" y2="388.31" stroke="#e4d6da" stroke-width="1" stroke-dasharray="1 1"/>
<line x1="1031.00" y1="405.34" x2="1060.00" y2="405.34" stroke="#e4d6da" stroke-width="1" stroke-dasharray="1 1"/>
<line x1="1031.00" y1="422.37" x2="1060.00" y2="422.37" stroke="#e4d6da" stroke-width="1" stroke-dasharray="1 1"/>
<line x1="1031.00" y1="439.40" x2="1060.00" y2="439.40" stroke="#e4d6da" stroke-width="1" stroke-dasharray="1 1"/>
<line x1="1031.00" y1="456.43" x2="1060.00" y2="456.43" stroke="#e4d6da" stroke-width="1" stroke-dasharray="1 1"/>
<line x1="1031.00" y1="473.46" x2="1060.00" y2="473.46" stroke="#e4d6da" stroke-width="1" stroke-dasharray="1 1"/>
<line x1="1031.00" y1="490.49" x2="1060.00" y2="490.49" stroke="#b7a6ab" stroke-width="1"/>
<text x="1046.50" y="367.69" font-size="11.7" fill="#cc8b9d" text-anchor="middle" class="n">60</text>
<text x="1046.50" y="384.64" font-size="11.7" fill="#cc8b9d" text-anchor="middle" class="n">50</text>
<text x="1046.50" y="401.59" font-size="11.7" fill="#cc8b9d" text-anchor="middle" class="n">40</text>
<text x="1046.50" y="418.54" font-size="11.7" fill="#cc8b9d" text-anchor="middle" class="n">30</text>
<text x="1046.50" y="435.49" font-size="11.7" fill="#cc8b9d" text-anchor="middle" class="n">20</text>
<text x="1046.50" y="452.44" font-size="11.7" fill="#cc8b9d" text-anchor="middle" class="n">10</text>
<text x="1046.50" y="469.39" font-size="11.7" fill="#cc8b9d" text-anchor="middle" class="n">0</text>
<text x="1046.50" y="486.34" font-size="11.7" fill="#cc8b9d" text-anchor="middle" class="n">−10</text>
<text x="1046.50" y="503.29" font-size="11.7" fill="#cc8b9d" text-anchor="middle" class="n">−20</text>
<text x="587.00" y="344.34" font-size="10.2" fill="#3a3f5c" text-anchor="middle" class="u">(<tspan dx="4.3" dy="1.3" font-size="10.4">亿人</tspan><tspan dx="4.3" dy="-1.3">)</tspan></text>
<text x="1046.25" y="344.04" font-size="10.2" fill="#cc8b9d" text-anchor="middle" class="u">(<tspan dx="4.1" dy="1.4" font-size="12.2">%</tspan><tspan dx="4.1" dy="-1.4">)</tspan></text>
<rect x="622.50" y="388.75" width="17.00" height="101.75" fill="#0a1b93"/>
<rect x="660.05" y="388.75" width="17.00" height="101.75" fill="#0a1b93"/>
<rect x="697.60" y="383.75" width="17.00" height="106.75" fill="#0a1b93"/>
<rect x="735.15" y="396.75" width="17.00" height="93.75" fill="#0a1b93"/>
<rect x="772.70" y="403.25" width="17.00" height="87.25" fill="#0a1b93"/>
<rect x="810.25" y="396.25" width="17.00" height="94.25" fill="#0a1b93"/>
<rect x="847.80" y="386.25" width="17.00" height="104.25" fill="#0a1b93"/>
<rect x="885.35" y="369.50" width="17.00" height="121.00" fill="#0a1b93"/>
<rect x="922.90" y="384.50" width="17.00" height="106.00" fill="#0a1b93"/>
<rect x="960.45" y="375.00" width="17.00" height="115.50" fill="#0a1b93"/>
<rect x="998.00" y="363.75" width="17.00" height="126.75" fill="#0a1b93"/>
<clipPath id="c4"><rect x="622.50" y="388.75" width="17.00" height="101.75"/><rect x="660.05" y="388.75" width="17.00" height="101.75"/><rect x="697.60" y="383.75" width="17.00" height="106.75"/><rect x="735.15" y="396.75" width="17.00" height="93.75"/><rect x="772.70" y="403.25" width="17.00" height="87.25"/><rect x="810.25" y="396.25" width="17.00" height="94.25"/><rect x="847.80" y="386.25" width="17.00" height="104.25"/><rect x="885.35" y="369.50" width="17.00" height="121.00"/><rect x="922.90" y="384.50" width="17.00" height="106.00"/><rect x="960.45" y="375.00" width="17.00" height="115.50"/><rect x="998.00" y="363.75" width="17.00" height="126.75"/></clipPath>
<line x1="612.10" y1="354.25" x2="612.10" y2="490.50" stroke="#23274d" stroke-width="1"/>
<line x1="1023.40" y1="354.25" x2="1023.40" y2="490.50" stroke="#23274d" stroke-width="1"/>
<line x1="611.60" y1="490.50" x2="1023.90" y2="490.50" stroke="#23274d" stroke-width="1.3"/>
<polyline points="628.80,374.60 668.60,376.40 706.20,376.70 743.80,388.80 781.40,395.50 819.00,394.80 856.60,389.20 894.20,381.80 931.80,390.80 969.40,387.00 1007.00,381.80" fill="none" stroke="#4f82ad" stroke-width="2.0" stroke-linejoin="round" stroke-linecap="round"/>
<polyline points="628.80,374.60 668.60,376.40 706.20,376.70 743.80,388.80 781.40,395.50 819.00,394.80 856.60,389.20 894.20,381.80 931.80,390.80 969.40,387.00 1007.00,381.80" fill="none" stroke="#5b95fb" stroke-width="2.0" stroke-linejoin="round" stroke-linecap="round" clip-path="url(#c4)"/>
<polyline points="704.70,449.70 743.80,466.20 781.40,483.20 819.00,456.00 856.60,429.30 894.20,415.00 931.80,451.30 969.40,463.00 1007.00,427.80" fill="none" stroke="#bf6a87" stroke-width="2.0" stroke-linejoin="round" stroke-linecap="round"/>
<polyline points="704.70,449.70 743.80,466.20 781.40,483.20 819.00,456.00 856.60,429.30 894.20,415.00 931.80,451.30 969.40,463.00 1007.00,427.80" fill="none" stroke="#bd80d5" stroke-width="2.0" stroke-linejoin="round" stroke-linecap="round" clip-path="url(#c4)"/>
<rect x="625.00" y="341.25" width="8.60" height="8.40" fill="#0c1b82"/>
<text x="644.50" y="349.24" font-size="10.4" fill="#1b2a6b" text-anchor="start" class="c">网约车用户规模</text>
<line x1="749.50" y1="345.00" x2="783.75" y2="345.00" stroke="#bf6a87" stroke-width="1.3"/>
<text x="788.75" y="349.49" font-size="10.4" fill="#d65f86" text-anchor="start" class="c">同比增速</text>
<line x1="889.50" y1="345.00" x2="923.25" y2="345.00" stroke="#4f82ad" stroke-width="1.3"/>
<text x="932.50" y="349.24" font-size="10.4" fill="#1b2a6b" text-anchor="start" class="c">使用率</text>
<line x1="612.00" y1="495.95" x2="612.00" y2="537.25" stroke="#7b8096" stroke-width="1" shape-rendering="crispEdges"/>
<line x1="649.36" y1="495.95" x2="649.36" y2="537.25" stroke="#7b8096" stroke-width="1" shape-rendering="crispEdges"/>
<line x1="686.73" y1="495.95" x2="686.73" y2="537.25" stroke="#7b8096" stroke-width="1" shape-rendering="crispEdges"/>
<line x1="724.09" y1="495.95" x2="724.09" y2="537.25" stroke="#7b8096" stroke-width="1" shape-rendering="crispEdges"/>
<line x1="761.46" y1="495.95" x2="761.46" y2="537.25" stroke="#7b8096" stroke-width="1" shape-rendering="crispEdges"/>
<line x1="798.82" y1="495.95" x2="798.82" y2="537.25" stroke="#7b8096" stroke-width="1" shape-rendering="crispEdges"/>
<line x1="836.18" y1="495.95" x2="836.18" y2="537.25" stroke="#7b8096" stroke-width="1" shape-rendering="crispEdges"/>
<line x1="873.55" y1="495.95" x2="873.55" y2="537.25" stroke="#7b8096" stroke-width="1" shape-rendering="crispEdges"/>
<line x1="910.91" y1="495.95" x2="910.91" y2="537.25" stroke="#7b8096" stroke-width="1" shape-rendering="crispEdges"/>
<line x1="948.28" y1="495.95" x2="948.28" y2="537.25" stroke="#7b8096" stroke-width="1" shape-rendering="crispEdges"/>
<line x1="985.64" y1="495.95" x2="985.64" y2="537.25" stroke="#7b8096" stroke-width="1" shape-rendering="crispEdges"/>
<line x1="1023.00" y1="495.95" x2="1023.00" y2="537.25" stroke="#7b8096" stroke-width="1" shape-rendering="crispEdges"/>
<text transform="translate(622.15,497.20) rotate(90)" font-size="11.6" fill="#3a3f5c" class="x">2018H1</text>
<text transform="translate(660.02,497.20) rotate(90)" font-size="11.6" fill="#3a3f5c" class="x">2018H2</text>
<text transform="translate(697.89,497.20) rotate(90)" font-size="11.6" fill="#3a3f5c" class="x">2019H1</text>
<text transform="translate(735.76,497.20) rotate(90)" font-size="11.6" fill="#3a3f5c" class="x">2019H2</text>
<text transform="translate(773.63,497.20) rotate(90)" font-size="11.6" fill="#3a3f5c" class="x">2020H1</text>
<text transform="translate(811.50,497.20) rotate(90)" font-size="11.6" fill="#3a3f5c" class="x">2020H2</text>
<text transform="translate(849.37,497.20) rotate(90)" font-size="11.6" fill="#3a3f5c" class="x">2021H1</text>
<text transform="translate(887.24,497.20) rotate(90)" font-size="11.6" fill="#3a3f5c" class="x">2021H2</text>
<text transform="translate(925.11,497.20) rotate(90)" font-size="11.6" fill="#3a3f5c" class="x">2022H1</text>
<text transform="translate(962.98,497.20) rotate(90)" font-size="11.6" fill="#3a3f5c" class="x">2022H2</text>
<text transform="translate(1000.85,497.20) rotate(90)" font-size="11.6" fill="#3a3f5c" class="x">2023H1</text>
<text x="561.00" y="555.18" font-size="10.5" fill="#1b2a6b" text-anchor="start" class="c" letter-spacing="0.28">数据来源：CNNIC、华泰研究</text>
<text x="888.00" y="555.18" font-size="10.5" fill="#1b2a6b" text-anchor="start" class="c" letter-spacing="0.28">注：H1=上半年；H2=下半年</text>
</svg>
</body>
</html>
